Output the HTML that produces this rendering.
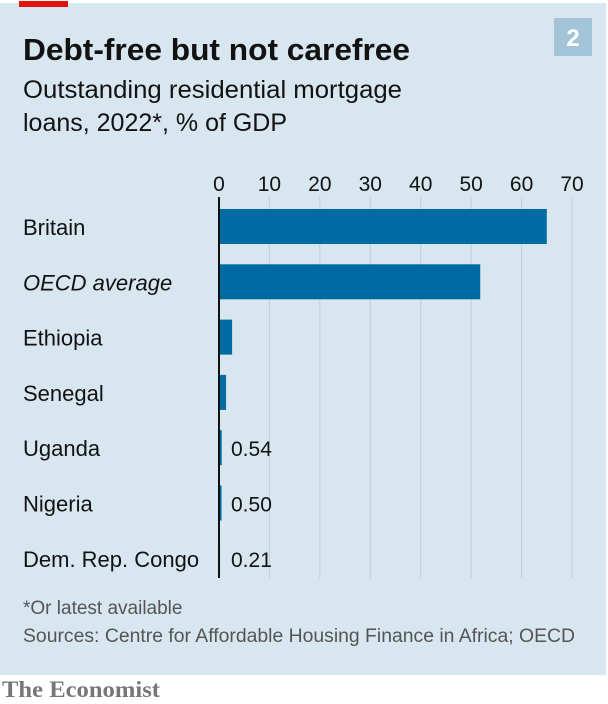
<!DOCTYPE html>
<html><head><meta charset="utf-8"><style>
body{margin:0;width:608px;height:704px;background:#fff;overflow:hidden;font-family:"Liberation Sans",sans-serif}
#panel{position:absolute;left:0;top:3px;width:606px;height:672px;background:#d8e6ef}
</style></head><body>
<div id="panel"></div>
<svg width="608" height="704" style="position:absolute;left:0;top:0">
<rect x="19" y="1" width="49" height="6" fill="#e3120b"/>
<rect x="554" y="18" width="38" height="38" fill="#a3c4d9"/>
<text x="573" y="46" font-size="24" font-weight="bold" fill="#fff" text-anchor="middle">2</text>
<text x="23" y="60" font-size="31" font-weight="bold" fill="#121212" textLength="387" lengthAdjust="spacingAndGlyphs">Debt-free but not carefree</text>
<text x="23" y="98" font-size="25" fill="#121212" textLength="379" lengthAdjust="spacingAndGlyphs">Outstanding residential mortgage</text>
<text x="23" y="131" font-size="25" fill="#121212">loans, 2022*, % of GDP</text>
<g id="grid"></g><g id="bars"></g>
<text x="23" y="614" font-size="19" fill="#555">*Or latest available</text>
<text x="23" y="642" font-size="19" fill="#555" textLength="552" lengthAdjust="spacingAndGlyphs">Sources: Centre for Affordable Housing Finance in Africa; OECD</text>
<text x="2" y="697" font-size="23" fill="#777" font-weight="bold" font-family="Liberation Serif,serif" textLength="158" lengthAdjust="spacingAndGlyphs">The Economist</text>
</svg>
<script>
const categories=["Britain","OECD average","Ethiopia","Senegal","Uganda","Nigeria","Dem. Rep. Congo"];
const values=[65,51.8,2.6,1.4,0.54,0.50,0.21];
const labels=["","","","","0.54","0.50","0.21"];
const ticks=[0,10,20,30,40,50,60,70];
const NS="http://www.w3.org/2000/svg";
const x=v=>219+v*(572-219)/70;
const yRow=i=>209+i*55.3;
const grid=document.getElementById('grid'),bars=document.getElementById('bars');
function mk(tag,a,p){const e=document.createElementNS(NS,tag);for(const k in a)e.setAttribute(k,a[k]);p.appendChild(e);return e;}
ticks.forEach(t=>{
 const l=mk('line',{x1:x(t),x2:x(t),y1:197,y2:578,stroke:"#c0ced6","stroke-width":1},grid);
 
 
 const tx=mk('text',{x:x(t),y:191,"font-size":21,fill:"#121212","text-anchor":"middle"},grid);
 tx.textContent=t;
 
 
});
categories.forEach((c,i)=>{
 const y=yRow(i);
 const r=mk('rect',{x:x(0),y:y,width:Math.max(x(values[i])-x(0),1),height:35,fill:"#006ba2"},bars);
 
 
 const t=mk('text',{x:23,y:y+26,"font-size":22,fill:"#121212"},bars);
 if(i===1)t.setAttribute('font-style','italic');
 t.textContent=c;
 
 
 if(labels[i]){
  const v=mk('text',{x:231,y:y+26,"font-size":21,fill:"#121212"},bars);
  v.textContent=labels[i];
  
  
 }
});
const ax=mk('line',{x1:x(0),x2:x(0),y1:197,y2:578,stroke:"#121212","stroke-width":2},bars);


</script>
</body></html>
